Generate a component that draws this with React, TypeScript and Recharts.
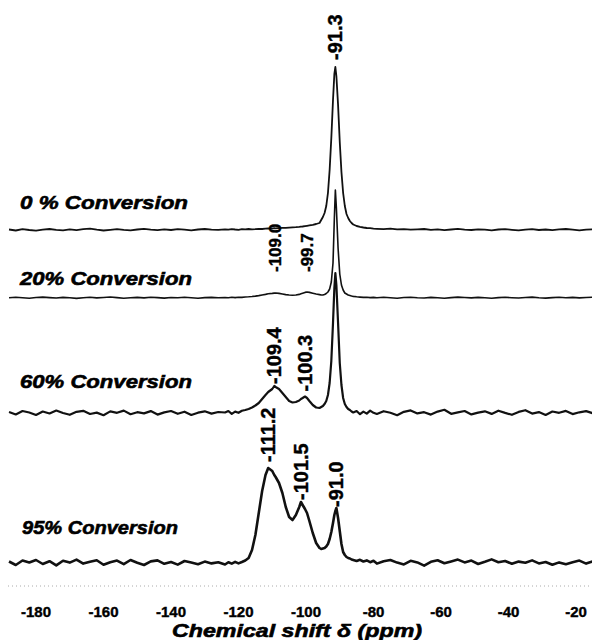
import { LineChart, Line, XAxis, YAxis, ReferenceDot } from 'recharts';

// chemical shift grid (ppm), finer around the Q peaks
const PPM = [
  -188, -186, -184, -182, -180, -178, -176, -174, -172, -170, -168, -166, -164, -162, -160, -158,
  -156, -154, -152, -150, -148, -146, -144, -142, -140, -138, -136, -134, -132, -130, -128, -126,
  -124, -123, -122, -121, -120, -119, -118, -117, -116, -115, -114, -113, -112, -111.2, -110, -109.4,
  -109, -108, -107, -106, -105, -104, -103, -102, -101.5, -101, -100.3, -99.7, -99, -98, -97, -96,
  -95.5, -95, -94.5, -94, -93.5, -93, -92.5, -92, -91.6, -91.3, -91, -90.5, -90, -89.5, -89, -88.5,
  -88, -87.5, -87, -86.5,
  -86, -85, -84, -83, -82, -81, -80,
  -79, -77, -75, -73, -71, -69, -67, -65, -63, -61, -59, -57, -55, -53, -51, -49,
  -47, -45, -43, -41, -39, -37, -35, -33, -31, -29, -27, -25, -23, -21, -19, -17, -15,
];

// 0 % conversion
const S0 = [
  0.5, -0.5, 0.8, 0, -0.6, 0.4, 1, 0.2, -0.4, 0.6, -0.2, 0.8, 1.4, 0.3, -0.5, 0.2,
  0.9, 0.1, -0.3, 0.5, 1.2, 0.4, -0.2, 0.6, 0, 0.8, 0.3, -0.4, 0.5, 1, 0.4, 0.2,
  0.6, 0.3, 0.9, 0.5, 0.2, 0.8, 0.6, 1, 0.7, 0.9, 1.2, 1, 1.3, 1.5, 1.4, 1.8,
  1.7, 1.9, 2.1, 2.2, 2.4, 2.6, 2.8, 3.1, 3.3, 3.5, 3.9, 4.2, 4.6, 5.2, 6, 7,
  10, 13, 17, 24, 37, 60, 92, 130, 156, 163, 154, 125, 88, 58, 37, 24,
  16, 12, 9, 7,
  5.5, 4, 3.2, 2.5, 2, 1.8, 1.4,
  1.2, 0.8, 1.3, 0.6, 0.9, 0.3, 0.7, 1, 0.2, 0.6, -0.2, 0.5, 1.1, 0.4, 0, 0.7,
  0.3, -0.3, 0.5, 0.9, 0.2, -0.4, 0.4, 0.8, 0, 0.5, -0.2, 0.6, 1, 0.3, -0.3, 0.4, 0.7,
];

// 20 % conversion
const S1 = [
  0.3, 0.8, 0.2, -0.3, 0.5, 0.9, 0.4, 0, 0.6, 0.2, -0.4, 0.3, 0.7, 0.1, 0.5, 1,
  0.4, -0.2, 0.3, 0.6, 0.1, 0.8, 0.4, -0.1, 0.5, 0.2, 0.7, 0.3, -0.2, 0.4, 0.6, 0.2,
  0.5, 0.3, 0.7, 0.4, 0.8, 0.6, 1, 1.2, 1.5, 1.9, 2.4, 3, 3.6, 4.2, 4.6, 4.9,
  5, 4.6, 4, 3.4, 3, 2.8, 3, 3.6, 4.2, 4.8, 5.6, 6, 5.6, 4.8, 4, 3.4,
  3, 3, 3.5, 4.5, 6, 9, 16, 35, 80, 108, 90, 50, 24, 13, 8, 5,
  4, 3, 2.5, 2,
  1.6, 1.2, 0.9, 0.6, 0.8, 0.4, 0.6,
  0.2, 0.7, 0.3, -0.2, 0.5, 0.8, 0.3, 0, 0.6, 0.2, -0.3, 0.4, 0.9, 0.5, 0.1, 0.6,
  0.2, -0.2, 0.4, 0.7, 0.3, 0, 0.5, 0.9, 0.2, -0.1, 0.4, 0.7, 0.3, 0.6, 0.1, 0.5, 0.8,
];

// 60 % conversion
const S2 = [
  1, -1.5, 2, 0.5, -2, 1.5, -0.5, 2.5, 0, -1.8, 1.2, 2.2, -1, 0.4, -2.2, 1.6,
  0.2, 2.4, -1.2, 0.8, -0.4, 1.9, -1.6, 0.6, 2, -0.8, 1.3, -2, 0.3, 1.7, -0.6, 1,
  0.5, 2, -0.8, 1.4, 0.2, 2.2, 3, 4, 5.5, 7.5, 10, 14, 18, 21, 24, 27,
  26, 24, 20, 16, 12, 10.5, 11, 12.5, 14, 15, 16.5, 15, 12, 8, 5.5, 5,
  6, 7, 9, 12, 18, 30, 52, 90, 125, 140, 128, 90, 50, 28, 15, 9,
  6, 4, 3, 1.5,
  0.5, 2, -1.2, 1.4, -0.6, 2.4, 0.2,
  -1, 1.8, 0.3, -2.2, 1.2, 2.6, -0.4, 0.8, -1.6, 1.4, 3.2, -0.8, 0.6, 2, -1.4, 0.4,
  1.7, -0.9, 2.3, 0.1, -1.8, 1.1, 2.8, -0.6, 0.9, -2, 1.5, 0.2, 2.1, -1.1, 0.7, 1.9, -0.3,
];

// 95 % conversion
const S3 = [
  1.5, -2, 2.5, 0.5, 3, -1, 1.8, -2.4, 2.2, 0.4, 3.4, -0.6, 1.2, 2.8, -1.8, 0.8,
  2.4, -1.2, 3, 0.2, -2, 1.6, 2.6, -0.8, 1, -1.6, 2, 0.4, -1.2, 1.4, -0.4, 0.8,
  -1.5, 0.8, -0.6, 1.2, -0.4, 1, 2.5, 5, 13, 28, 50, 72, 88, 95, 92, 88,
  86, 80, 70, 56, 46, 43, 48, 56, 61, 58, 54, 50, 42, 30, 20, 15,
  14, 14.5, 15, 16.5, 19, 24, 31, 40, 48, 52, 55, 45, 32, 19, 11, 8,
  6, 5, 4.5, 3.5,
  3, 2, 3.2, 1.5, 2.6, 0.8, 2.2,
  -0.6, 1.8, 3, 0.4, -1.4, 2.2, 0.6, -2.6, 1.2, 2.8, -0.2, 1.6, 3.4, 0.6, 2.4, -1,
  1.2, 3.6, 0.8, 2, -0.8, 1.4, 0.2, 2.6, -0.4, 1, -1.8, 0.6, -1.2, 0.8, 2.4, -0.6, 1.6,
];

const SERIES = [S0, S1, S2, S3];
const SERIES_KEYS = ['s0', 's1', 's2', 's3'];
// vertical stacking offset of each trace
const OFFSETS = [356, 288, 173, 23];
const STROKES = [1.8, 1.6, 2.2, 2.6];

const CONVERSIONS = ['0 % Conversion', '20% Conversion', '60% Conversion', '95% Conversion'];
const CONVERSION_LIFT = [28, 20, 32, 36];
const CONVERSION_WIDTH = [168, 172, 172, 156];

// assigned peaks: series index, shift, gap between peak top and label
const PEAK_SERIES = [0, 1, 1, 2, 2, 3, 3, 3];
const PEAK_PPM = [-91.3, -109.0, -99.7, -109.4, -100.3, -111.2, -101.5, -91.0];
const PEAK_GAP = [7, 21, 20, 2, 5, 6, 2, 1];
const PEAK_FONT = [20, 17, 17, 20, 20, 20, 20, 20];

const TICKS = [-180, -160, -140, -120, -100, -80, -60, -40, -20];

const FONT = "'Liberation Sans', Arial, sans-serif";

const rows = PPM.map((ppm, i) => {
  const row: Record<string, number> = { ppm };
  SERIES.forEach((s, k) => { row[SERIES_KEYS[k]] = s[i] + OFFSETS[k]; });
  return row;
});

function TickLabel({ x, y, payload }: any) {
  return (
    <text x={x} y={y + 25} textAnchor="middle" dominantBaseline="central"
      fontFamily={FONT} fontWeight="bold" fontSize={15} fill="#000"
      stroke="#000" strokeWidth={0.4}>
      {payload.value}
    </text>
  );
}

function AxisTitle({ viewBox }: any) {
  const { x, y, width } = viewBox;
  return (
    <text x={x + width / 2 - 3} y={y + 45} textAnchor="middle" dominantBaseline="central"
      fontFamily={FONT} fontWeight="bold" fontStyle="italic" fontSize={18} fill="#000"
      stroke="#000" strokeWidth={0.6} textLength={250} lengthAdjust="spacingAndGlyphs">
      Chemical shift  δ (ppm)
    </text>
  );
}

export default function App() {
  return (
    <div style={{ position: 'absolute', left: 0, top: 0, width: 597, height: 640, background: '#fff' }}>
      <LineChart width={597} height={640} data={rows}
        margin={{ top: 0, right: 5, bottom: 0, left: 8 }}>
        <XAxis dataKey="ppm" type="number" domain={[-188.3, -15.26]} ticks={TICKS}
          allowDataOverflow height={54} tickSize={0} tickMargin={0} tickLine={false}
          axisLine={{ stroke: '#aaa', strokeDasharray: '1 3' }}
          tick={<TickLabel />} label={<AxisTitle />} />
        <YAxis hide type="number" domain={[0, 586]} allowDataOverflow />
        {SERIES_KEYS.map((k, i) => (
          <Line key={k} dataKey={k} type="linear" dot={false} stroke="#111"
            strokeWidth={STROKES[i]} strokeLinejoin="round" isAnimationActive={false} />
        ))}
        {CONVERSIONS.map((t, i) => (
          <ReferenceDot key={t} x={i === 3 ? -184.15 : -184.74} y={OFFSETS[i] + CONVERSION_LIFT[i]} r={0}
            shape={(p: any) => (
              <text x={p.cx} y={p.cy} dominantBaseline="central" fontFamily={FONT}
                fontWeight="bold" fontStyle="italic" fontSize={19} fill="#000"
                stroke="#000" strokeWidth={0.6}
                textLength={CONVERSION_WIDTH[i]} lengthAdjust="spacingAndGlyphs">
                {t}
              </text>
            )} />
        ))}
        {PEAK_PPM.map((ppm, i) => {
          const s = PEAK_SERIES[i];
          const top = SERIES[s][PPM.indexOf(ppm)] + OFFSETS[s] + PEAK_GAP[i];
          return (
            <ReferenceDot key={i} x={ppm} y={top} r={0}
              shape={(p: any) => (
                <text x={p.cx} y={p.cy} transform={`rotate(-90 ${p.cx} ${p.cy})`}
                  dominantBaseline="central" fontFamily={FONT} fontWeight="bold"
                  fontSize={PEAK_FONT[i]} fill="#000" stroke="#000" strokeWidth={0.4}>
                  {ppm.toFixed(1)}
                </text>
              )} />
          );
        })}
      </LineChart>
    </div>
  );
}
